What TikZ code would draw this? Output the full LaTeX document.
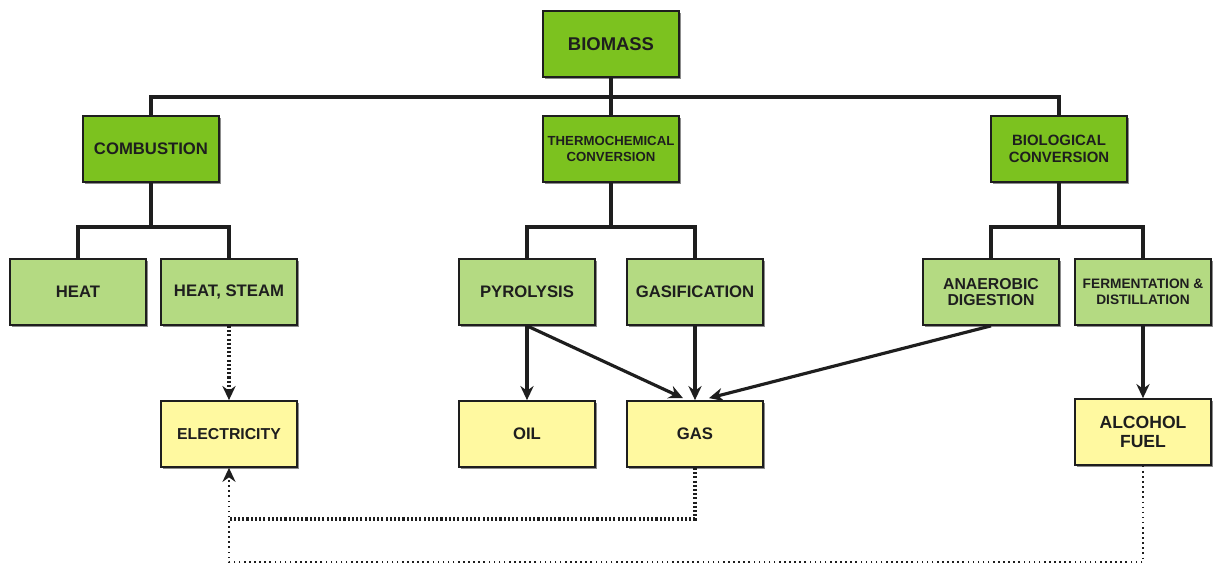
\documentclass[tikz,border=0pt]{standalone}
\usepackage{fontspec}
\setmainfont{Liberation Sans}
\usetikzlibrary{arrows.meta, positioning, calc, shadows}
\definecolor{G1}{RGB}{124,194,31}
\definecolor{G2}{RGB}{180,218,130}
\definecolor{Y1}{RGB}{255,249,160}
\definecolor{DG}{RGB}{30,30,30}

\begin{document}
\begin{tikzpicture}[x=0.02cm, y=-0.02cm,
  box/.style={draw=DG, line width=1pt, minimum width=2.72cm, minimum height=1.32cm,
    align=center, text=DG, inner sep=1pt,
    font=\fontsize{9.5}{10.5}\selectfont\bfseries,
    drop shadow={shadow xshift=0.9pt, shadow yshift=-0.9pt, fill=black, opacity=0.45}},
  main/.style={box, fill=G1},
  proc/.style={box, fill=G2},
  prod/.style={box, fill=Y1},
  link/.style={DG, line width=1.8pt},
  arr/.style={link, -{Stealth[length=8pt,width=7.5pt]}},
  dots/.style={DG, line width=1.8pt, dash pattern=on 1.2pt off 1.2pt},
  thindots/.style={DG, line width=0.9pt, dotted}
]
\useasboundingbox (0,0) rectangle (1215,564);

% top level
\node[main, font=\fontsize{10.5}{12}\selectfont\bfseries] (biomass) at (611,44) {BIOMASS};

% conversion routes
\node[main] (combustion) at (151,149) {COMBUSTION};
\node[main, font=\fontsize{7.5}{8.6}\selectfont\bfseries] (thermo) at (611,149) {THERMOCHEMICAL\\CONVERSION};
\node[main, font=\fontsize{8.5}{9.5}\selectfont\bfseries] (biological) at (1059,149) {BIOLOGICAL\\CONVERSION};

% processes
\node[proc] (heat) at (78,292) {HEAT};
\node[proc] (steam) at (229,292) {HEAT, STEAM};
\node[proc] (pyrolysis) at (527,292) {PYROLYSIS};
\node[proc] (gasification) at (695,292) {GASIFICATION};
\node[proc, font=\fontsize{9}{9.5}\selectfont\bfseries] (anaerobic) at (991,292) {ANAEROBIC\\DIGESTION};
\node[proc, font=\fontsize{7.8}{9}\selectfont\bfseries] (fermentation) at (1143,292) {FERMENTATION \&\\DISTILLATION};

% products
\node[prod, font=\fontsize{9}{10}\selectfont\bfseries] (elec) at (229,434) {ELECTRICITY};
\node[prod] (oil) at (527,434) {OIL};
\node[prod] (gas) at (695,434) {GAS};
\node[prod, font=\fontsize{10}{11.3}\selectfont\bfseries] (fuel) at (1143,432) {ALCOHOL\\FUEL};

% tree lines
\coordinate (topbus) at (611,97);
\draw[link] (biomass) -- (topbus);
\draw[link] (combustion.north) |- (topbus) -| (biological.north);
\draw[link] (topbus) -- (thermo.north);

\coordinate (cbus) at (151,227);
\draw[link] (combustion) -- (cbus);
\draw[link] (heat.north) |- (cbus) -| (steam.north);

\coordinate (tbus) at (611,227);
\draw[link] (thermo) -- (tbus);
\draw[link] (pyrolysis.north) |- (tbus) -| (gasification.north);

\coordinate (bbus) at (1059,227);
\draw[link] (biological) -- (bbus);
\draw[link] (anaerobic.north) |- (bbus) -| (fermentation.north);

% products arrows
\draw[arr] (pyrolysis) -- (oil);
\draw[arr] (pyrolysis.south) -- ($(gas.north)+(-12,-2)$);
\draw[arr] (gasification) -- (gas);
\draw[arr] (anaerobic.south) -- ($(gas.north)+(14,-2)$);
\draw[arr] (fermentation) -- (fuel);

% electricity
\draw[dots, -{Stealth[length=8pt,width=7.5pt]}] (steam) -- (elec);
\coordinate (gasloop) at (229,519);
\coordinate (fuelloop) at (229,562);
\draw[dots] (gas.south) |- (gasloop);
\draw[thindots, -{Stealth[length=8pt,width=7.5pt]}] (fuel.south) |- (fuelloop) -- (elec.south);
\end{tikzpicture}
\end{document}
